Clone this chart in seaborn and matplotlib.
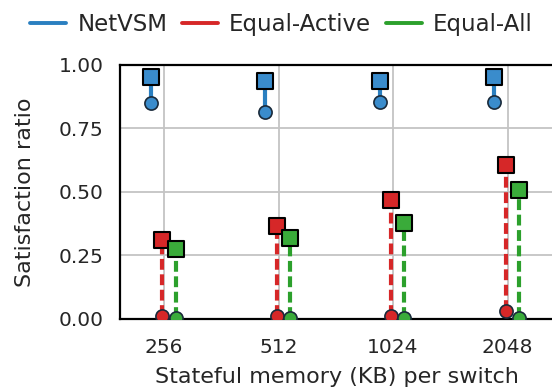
import matplotlib
matplotlib.use("Agg")
import matplotlib.pyplot as plt
import seaborn as sns
import numpy as np
import pandas as pd
from matplotlib.lines import Line2D

categories = ["256", "512", "1024", "2048"]
netvsm_high = [0.953, 0.937, 0.937, 0.953]
netvsm_low = [0.85, 0.815, 0.854, 0.854]
active_high = [0.311, 0.366, 0.47, 0.606]
active_low = [0.01, 0.01, 0.01, 0.03]
all_high = [0.276, 0.319, 0.378, 0.508]
all_low = [0.005, 0.005, 0.005, 0.005]

sns.set_theme(style="white")
plt.rcParams['font.family'] = ['DejaVu Sans']

series = [
    ("NetVSM", netvsm_high, netvsm_low, "#2a7fc0", "#3a8ccc", "-", -0.115),
    ("Equal-Active", active_high, active_low, "#d62728", "#d62728", (0, (2.6, 1.1)), -0.015),
    ("Equal-All", all_high, all_low, "#2ca02c", "#3aab3a", (0, (2.6, 1.1)), 0.10),
]

fig = plt.figure(figsize=(5.52, 3.88), dpi=100)
ax = fig.add_axes([0.2174, 0.178, 0.785, 0.6545])

x = np.arange(len(categories))
ax.set_axisbelow(True)
ax.grid(True, color="#c4c4c4", linewidth=1.3)

for name, hi, lo, c, fc, ls, off in series:
    xs = x + off
    ax.vlines(xs, lo, hi, colors=c, linestyles=ls, linewidth=3.0, zorder=2)
    df_hi = pd.DataFrame({"x": xs, "y": hi})
    df_lo = pd.DataFrame({"x": xs, "y": lo})
    sns.scatterplot(data=df_lo, x="x", y="y", marker="o", s=90, color=fc,
                    edgecolor="#1a2a3a", linewidth=1.2, ax=ax, zorder=3)
    sns.scatterplot(data=df_hi, x="x", y="y", marker="s", s=140, color=fc,
                    edgecolor="black", linewidth=1.5, ax=ax, zorder=4)

ax.set_xlim(-0.385, 3.40)
ax.set_ylim(0, 1.0)
ax.set_xticks(x)
ax.set_xticklabels(categories)
ax.set_yticks([0, 0.25, 0.5, 0.75, 1.0])
ax.set_yticklabels(["0.00", "0.25", "0.50", "0.75", "1.00"])
ax.tick_params(axis="y", direction="in", length=5, width=1.2, labelsize=14.5, pad=12, color="black")
ax.tick_params(axis="x", length=0, labelsize=14.5, pad=14)
for s in ax.spines.values():
    s.set_color("black")
    s.set_linewidth(1.6)
ax.set_xlabel("Stateful memory (KB) per switch", fontsize=16, labelpad=7)
ax.set_ylabel("Satisfaction ratio", fontsize=16, labelpad=17)

handles = [Line2D([0], [0], color=c, lw=2.8) for _, _, _, c, _, _, _ in series]
fig.legend(handles, [s[0] for s in series], loc="center left",
           bbox_to_anchor=(0.055, 0.936), ncol=3, frameon=False, fontsize=16.5,
           handlelength=1.55, handletextpad=0.5, columnspacing=0.65, borderaxespad=0,
           borderpad=0)

fig.savefig("out.png", dpi=100)
